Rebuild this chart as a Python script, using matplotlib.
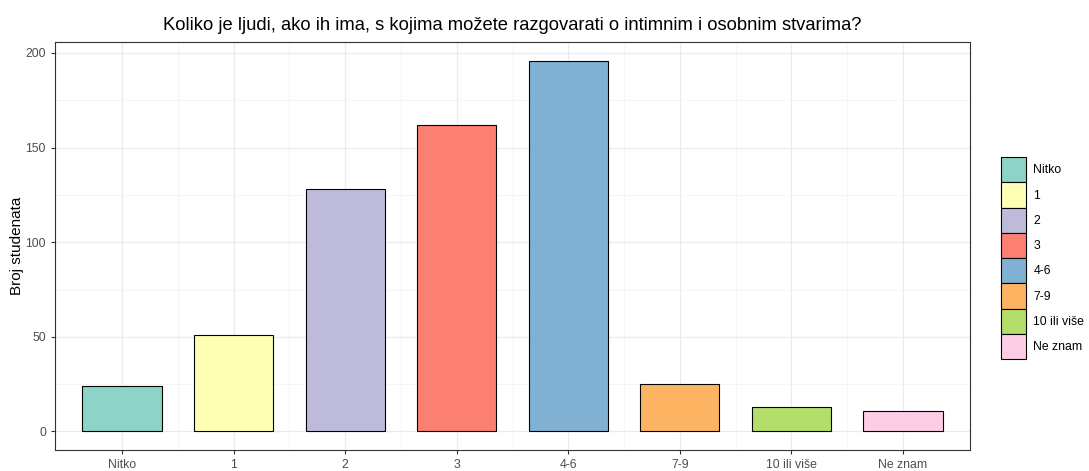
import matplotlib.pyplot as plt
from matplotlib.patches import Patch
from matplotlib.ticker import MultipleLocator

plt.rcParams['font.family'] = ['Liberation Sans', 'DejaVu Sans']

# data
categories = ['Nitko', '1', '2', '3', '4-6', '7-9', '10 ili više', 'Ne znam']
counts = [24, 51, 128, 162, 196, 25, 13, 11]
colors = ['#8DD3C7', '#FFFFB3', '#BEBADA', '#FB8072', '#80B1D3', '#FDB462', '#B3DE69', '#FCCDE5']

fig = plt.figure(figsize=(10.89, 4.71), dpi=100)
ax = fig.add_axes([55/1089, 21/471, 915/1089, 408/471])

x = range(len(categories))
ax.bar(x, counts, width=0.71, color=colors, edgecolor='black', linewidth=0.8, zorder=3)

ax.set_xlim(-0.6, len(categories) - 1 + 0.6)
ax.set_ylim(-0.05 * max(counts), max(counts) * 1.05)
ax.set_xticks(list(x))
ax.set_xticklabels(categories)
ax.yaxis.set_major_locator(MultipleLocator(50))
ax.yaxis.set_minor_locator(MultipleLocator(25))
ax.set_xticks([i + 0.5 for i in range(len(categories) - 1)], minor=True)

ax.grid(which='major', color='#EBEBEB', linewidth=0.9, zorder=0)
ax.grid(which='minor', color='#F2F2F2', linewidth=0.5, zorder=0)
ax.tick_params(which='minor', length=0)
ax.tick_params(which='major', length=3, color='#333333', labelsize=8.8, labelcolor='#4D4D4D')
for s in ax.spines.values():
    s.set_color('#333333')
    s.set_linewidth(0.8)

ax.set_ylabel('Broj studenata', fontsize=11)
ax.yaxis.set_label_coords(-0.034, 0.5)
ax.set_title('Koliko je ljudi, ako ih ima, s kojima možete razgovarati o intimnim i osobnim stvarima?',
             fontsize=13.2, pad=9)

handles = [Patch(facecolor=c, edgecolor='black', linewidth=0.8) for c in colors]
fig.legend(handles, categories, loc='center left', bbox_to_anchor=(1001/1089, 0.452),
           frameon=False, fontsize=8.8, handlelength=2.05, handleheight=2.8,
           labelspacing=0.0, handletextpad=0.6, borderaxespad=0, borderpad=0)

fig.savefig('out.png', dpi=100)
